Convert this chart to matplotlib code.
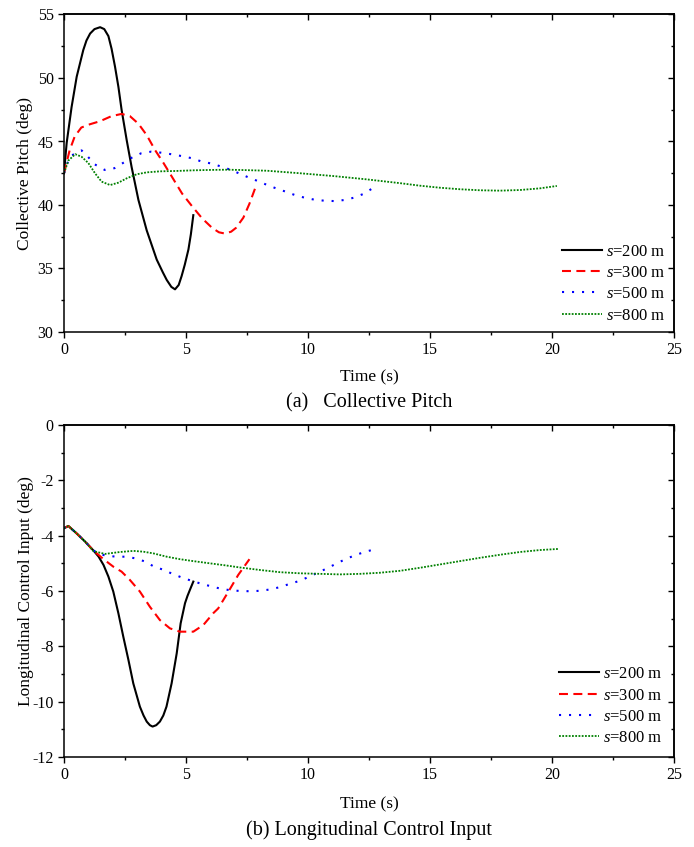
import matplotlib
matplotlib.use("Agg")
import matplotlib.pyplot as plt
from matplotlib.ticker import MultipleLocator

plt.rcParams['font.family'] = ['Liberation Serif', 'DejaVu Serif']
plt.rcParams['mathtext.fontset'] = 'custom'
plt.rcParams['mathtext.it'] = 'Liberation Serif:italic'
plt.rcParams['mathtext.rm'] = 'Liberation Serif'
plt.rcParams['axes.unicode_minus'] = False

labels = [r"$s$=200 m", r"$s$=300 m", r"$s$=500 m", r"$s$=800 m"]

# ---- (a) Collective pitch ----
t200_a = [0, 0.11, 0.31, 0.52, 0.79, 0.92, 1.07, 1.25, 1.48, 1.65, 1.82, 1.95, 2.09, 2.23, 2.36, 2.57, 2.77, 3.05, 3.39, 3.80, 4.05, 4.21, 4.4, 4.55, 4.7, 4.82, 4.95, 5.10, 5.2, 5.30]
p200_a = [42.5, 44.9, 47.7, 50.1, 52.2, 52.95, 53.5, 53.85, 54.0, 53.85, 53.3, 52.3, 50.9, 49.3, 47.5, 45.1, 43.0, 40.4, 38.0, 35.7, 34.7, 34.1, 33.55, 33.36, 33.7, 34.4, 35.3, 36.5, 37.7, 39.2]

t300_a = [0, 0.23, 0.44, 0.71, 1.05, 1.48, 1.95, 2.36, 2.7, 3.05, 3.39, 3.74, 4.08, 4.43, 4.84, 5.25, 5.66, 6.07, 6.35, 6.6, 6.85, 7.05, 7.35, 7.6, 7.83]
p300_a = [42.5, 44.3, 45.4, 46.1, 46.35, 46.6, 47.0, 47.17, 47.0, 46.4, 45.5, 44.3, 43.3, 42.2, 40.9, 39.9, 38.95, 38.2, 37.85, 37.75, 37.9, 38.2, 39.0, 40.1, 41.3]

t500_a = [0, 0.14, 0.31, 0.72, 0.98, 1.26, 1.67, 2.07, 2.41, 2.75, 3.16, 3.57, 3.98, 4.39, 4.8, 5.2, 5.6, 5.95, 6.32, 6.74, 7.1, 7.49, 7.87, 8.26, 8.65, 9.04, 9.44, 9.85, 10.26, 10.66, 11.07, 11.48, 11.87, 12.27, 12.6, 12.75]
p500_a = [42.5, 43.3, 43.9, 44.3, 43.8, 43.2, 42.76, 42.9, 43.3, 43.7, 44.07, 44.2, 44.12, 44.0, 43.86, 43.7, 43.45, 43.3, 43.1, 42.83, 42.55, 42.23, 41.94, 41.63, 41.34, 41.08, 40.8, 40.58, 40.42, 40.34, 40.31, 40.39, 40.57, 40.87, 41.26, 41.45]

t800_a = [0, 0.18, 0.46, 0.72, 1.0, 1.27, 1.54, 1.89, 2.23, 2.57, 2.98, 3.39, 3.93, 4.6, 5.3, 5.98, 6.67, 7.2, 8.31, 9.67, 11.04, 12.4, 13.77, 14.59, 15.41, 16.23, 17.05, 17.87, 18.69, 19.5, 20.2]
p800_a = [42.5, 43.5, 44.0, 43.8, 43.3, 42.5, 41.84, 41.57, 41.76, 42.1, 42.42, 42.57, 42.65, 42.68, 42.73, 42.76, 42.78, 42.76, 42.7, 42.5, 42.28, 42.02, 41.72, 41.52, 41.36, 41.24, 41.16, 41.13, 41.18, 41.31, 41.5]

# ---- (b) Longitudinal control input ----
t200_b = [0, 0.18, 0.52, 0.87, 1.21, 1.42, 1.62, 1.82, 2.02, 2.23, 2.43, 2.64, 2.84, 3.11, 3.26, 3.39, 3.52, 3.63, 3.78, 3.93, 4.07, 4.2, 4.41, 4.62, 4.78, 4.96, 5.06, 5.16, 5.3]
u200_b = [-3.73, -3.65, -3.92, -4.22, -4.54, -4.76, -5.06, -5.48, -6.02, -6.81, -7.65, -8.49, -9.34, -10.18, -10.5, -10.72, -10.85, -10.9, -10.85, -10.72, -10.5, -10.18, -9.34, -8.25, -7.17, -6.44, -6.18, -5.96, -5.66]

t300_b = [0, 0.18, 0.52, 0.87, 1.21, 1.62, 2.02, 2.36, 2.7, 3.11, 3.52, 3.93, 4.34, 4.75, 5.3, 5.71, 6.12, 6.32, 6.74, 7.14, 7.6]
u300_b = [-3.73, -3.65, -3.92, -4.22, -4.54, -4.85, -5.12, -5.3, -5.6, -6.02, -6.57, -7.05, -7.35, -7.47, -7.47, -7.23, -6.8, -6.63, -6.02, -5.42, -4.85]

t500_b = [0, 0.18, 0.52, 0.87, 1.21, 1.62, 2.11, 2.52, 2.93, 3.34, 3.69, 4.1, 4.44, 4.85, 5.26, 5.67, 6.07, 6.48, 6.89, 7.25, 7.66, 8.07, 8.48, 8.89, 9.29, 9.67, 10.05, 10.44, 10.81, 11.18, 11.56, 11.95, 12.35, 12.8]
u500_b = [-3.73, -3.65, -3.92, -4.22, -4.54, -4.7, -4.76, -4.76, -4.82, -4.94, -5.12, -5.24, -5.38, -5.52, -5.64, -5.75, -5.84, -5.93, -5.98, -6.0, -6.01, -5.99, -5.94, -5.85, -5.73, -5.63, -5.48, -5.32, -5.17, -5.0, -4.84, -4.7, -4.58, -4.48]

t800_b = [0, 0.18, 0.52, 0.87, 1.21, 1.68, 2.3, 2.85, 3.26, 3.66, 4.21, 4.75, 5.3, 5.98, 6.67, 7.21, 8.03, 8.85, 9.67, 10.49, 11.31, 12.13, 12.95, 13.77, 14.59, 15.41, 16.23, 17.05, 17.87, 18.69, 19.5, 20.26]
u800_b = [-3.73, -3.65, -3.92, -4.22, -4.56, -4.66, -4.59, -4.55, -4.58, -4.64, -4.76, -4.85, -4.92, -5.0, -5.08, -5.15, -5.24, -5.32, -5.36, -5.38, -5.4, -5.38, -5.34, -5.27, -5.16, -5.04, -4.92, -4.8, -4.69, -4.59, -4.52, -4.48]

colors = ['black', '#ff0000', '#0000ff', '#008000']
styles = ['-', (0, (4.3, 2.6)), (0, (1, 3.8)), (0, (1, 0.8))]
widths = [1.5, 1.5, 1.5, 1.3]

fig = plt.figure(figsize=(6.94, 8.47), dpi=100)
ax1 = fig.add_axes([64/694, 1-332/847, 610/694, (332-14.5)/847])
ax2 = fig.add_axes([64/694, 1-757/847, 610/694, (757-425)/847])


def style_axes(ax, xmaj, xmin, ymaj, ymin):
    ax.xaxis.set_major_locator(MultipleLocator(xmaj))
    ax.xaxis.set_minor_locator(MultipleLocator(xmin))
    ax.yaxis.set_major_locator(MultipleLocator(ymaj))
    ax.yaxis.set_minor_locator(MultipleLocator(ymin))
    ax.tick_params(which='both', direction='out', top=False, right=False, labelsize=11.5, width=1)
    ax.tick_params(which='major', length=4)
    ax.tick_params(which='minor', length=2.5)
    for sp in ax.spines.values():
        sp.set_linewidth(1.1)
    sx = ax.secondary_xaxis('top')
    sx.xaxis.set_major_locator(MultipleLocator(xmaj))
    sx.xaxis.set_minor_locator(MultipleLocator(xmin))
    sx.tick_params(which='both', direction='in', labeltop=False, width=1)
    sx.tick_params(which='major', length=4)
    sx.tick_params(which='minor', length=2.5)
    sx.spines['top'].set_linewidth(1.1)
    sy = ax.secondary_yaxis('right')
    sy.yaxis.set_major_locator(MultipleLocator(ymaj))
    sy.yaxis.set_minor_locator(MultipleLocator(ymin))
    sy.tick_params(which='both', direction='in', labelright=False, width=1)
    sy.tick_params(which='major', length=4)
    sy.tick_params(which='minor', length=2.5)
    sy.spines['right'].set_linewidth(1.1)


series_a = [(t200_a, p200_a), (t300_a, p300_a), (t500_a, p500_a), (t800_a, p800_a)]
series_b = [(t200_b, u200_b), (t300_b, u300_b), (t500_b, u500_b), (t800_b, u800_b)]

for (t, v), c, ls, lw, lab in zip(series_a, colors, styles, widths, labels):
    ax1.plot(t, v, color=c, linestyle=ls, linewidth=lw, label=lab)
for (t, v), c, ls, lw, lab in zip(series_b, colors, styles, widths, labels):
    ax2.plot(t, v, color=c, linestyle=ls, linewidth=lw, label=lab)

ax1.set_xlim(0, 25)
ax1.set_ylim(30, 55)
ax2.set_xlim(0, 25)
ax2.set_ylim(-12, 0)
style_axes(ax1, 5, 2.5, 5, 2.5)
style_axes(ax2, 5, 2.5, 2, 1)

ax1.set_xlabel("Time (s)", fontsize=12.5, labelpad=8)
ax1.set_ylabel("Collective Pitch (deg)", fontsize=12.5, labelpad=3.5)
ax2.set_xlabel("Time (s)", fontsize=12.5, labelpad=9)
ax2.set_ylabel("Longitudinal Control Input (deg)", fontsize=12.5, labelpad=-1)

ax1.legend(loc='lower right', frameon=False, fontsize=12, handlelength=2.4,
           handletextpad=0.25, labelspacing=0.32, borderaxespad=0.1)
ax2.legend(loc='lower right', frameon=False, fontsize=12, handlelength=2.4,
           handletextpad=0.25, labelspacing=0.32, borderaxespad=0.25)

fig.text(369/694, 1-403/847, "(a)   Collective Pitch", ha='center', va='center', fontsize=14.5)
fig.text(369/694, 1-830/847, "(b) Longitudinal Control Input", ha='center', va='center', fontsize=14.5)

fig.savefig("out.png", dpi=100)
